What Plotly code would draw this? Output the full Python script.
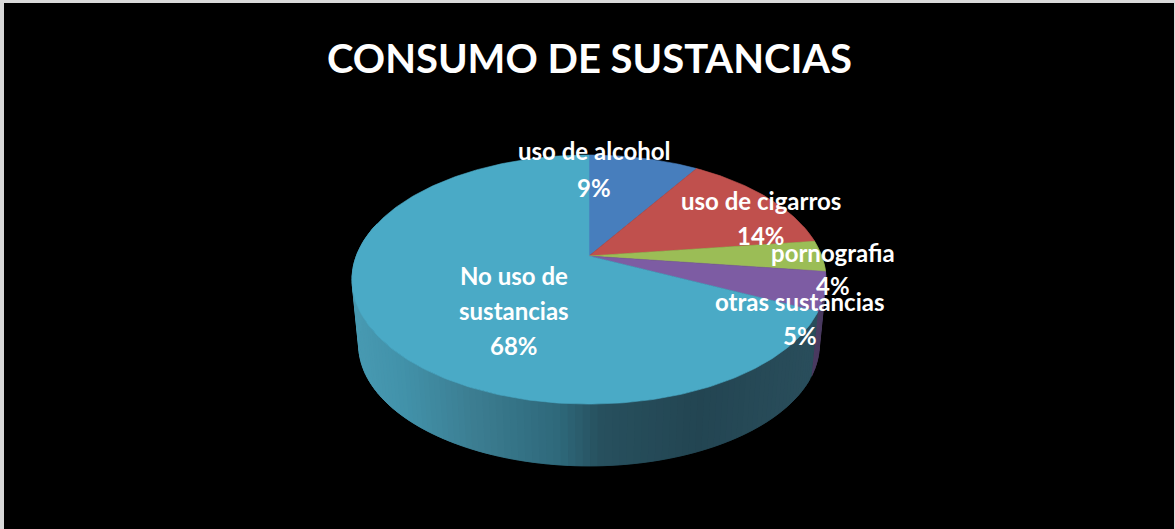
import numpy as np
import plotly.graph_objects as go

# Chart content
title = "CONSUMO DE SUSTANCIAS"
categories = ["uso de alcohol", "uso de cigarros", "pornografia", "otras sustancias", "No uso de sustancias"]
values = [9, 14, 4, 5, 68]

# Styling
top_colors = ["#477ebd", "#c0504d", "#9bbd56", "#7d5ca3", "#4aaac6"]
wall_colors = ["#2e4763", "#6e2f2d", "#5b6f35", "#4a3a60", None]
wall_ramp_x = [352, 400, 470, 560, 600, 700, 825]
wall_ramp_rgb = [(72, 154, 178), (66, 146, 170), (60, 126, 146), (46, 104, 122),
                 (39, 80, 94), (35, 69, 82), (42, 78, 92)]

# Label layout, one entry per category: (centre x, first line y, line gap, wrapped lines)
label_layout = [
    (594, 150, 37, ["uso de alcohol"]),
    (761, 200, 35, ["uso de cigarros"]),
    (833, 252, 33, ["pornografia"]),
    (800, 301, 34, ["otras sustancias"]),
    (514, 275, 35, ["No uso de", "sustancias"]),
]

# Perspective disc: apex, radii and foreshortening of the top face, plus the extruded base
APEX_X, APEX_Y = 589.0, 256.0
RX, RY, PERSP = 232.7, 120.1, 0.189
DROP, BASE_SCALE = 66.0, 0.972


def project(theta, drop=0.0, scale=1.0):
    """Clockwise angle from twelve o'clock to canvas x, y on the tilted disc."""
    d = 1 + PERSP * np.cos(theta)
    return (APEX_X + scale * RX * np.sin(theta) / d,
            APEX_Y + drop - scale * RY * np.cos(theta) / d)


def polygon(x, y, color):
    return go.Scatter(x=x, y=y, mode="lines", fill="toself", fillcolor=color,
                      line=dict(color=color, width=0.6),
                      hoverinfo="skip", showlegend=False)


fig = go.Figure()

shares = np.array(values, dtype=float) / sum(values)
edges = np.concatenate([[0.0], np.cumsum(shares)]) * 2 * np.pi

# Side wall first; each shaded strip overlaps the next one so no seams show between them
for i in range(len(values)):
    start, end = edges[i], edges[i + 1]
    n = max(2, int((end - start) / np.radians(1.5)))
    steps = np.linspace(start, end, n + 1)
    for k in range(n):
        a, b = steps[k], steps[min(k + 2, n)]
        mid = (steps[k] + steps[k + 1]) / 2
        if np.cos(mid) > 0.25:
            continue
        mx, _ = project(mid)
        if wall_colors[i]:
            color = wall_colors[i]
        else:
            rgb = [np.interp(mx, wall_ramp_x, [c[j] for c in wall_ramp_rgb]) for j in range(3)]
            color = "rgb({:.0f},{:.0f},{:.0f})".format(*rgb)
        x0, y0 = project(np.array([a, b]))
        x1, y1 = project(np.array([b, a]), DROP, BASE_SCALE)
        fig.add_trace(polygon(list(x0) + list(x1), list(y0) + list(y1), color))

# Top face wedges
for i in range(len(values)):
    th = np.linspace(edges[i], edges[i + 1], max(3, int(values[i] * 4)))
    x, y = project(th)
    fig.add_trace(polygon([APEX_X] + list(x) + [APEX_X], [APEX_Y] + list(y) + [APEX_Y], top_colors[i]))

# Data labels, one annotation per line so the gap stays wider than the default leading
annotations = []
for (cx, cy, gap, lines), v in zip(label_layout, values):
    for j, text in enumerate(lines + [f"{v}%"]):
        annotations.append(dict(x=cx, y=cy + j * gap, text=text, showarrow=False,
                                xref="x", yref="y", xanchor="center", yanchor="middle",
                                font=dict(family="Lato", size=24, color="#ffffff", weight="bold")))

annotations.append(dict(x=589, y=58, text=title, showarrow=False, xref="x", yref="y",
                        xanchor="center", yanchor="middle",
                        font=dict(family="Lato", size=40, color="#ffffff", weight="bold")))

fig.update_layout(
    width=1175, height=529, autosize=False,
    margin=dict(l=0, r=0, t=0, b=0),
    paper_bgcolor="#d9d9d9", plot_bgcolor="#d9d9d9",
    showlegend=False,
    xaxis=dict(range=[0, 1175], visible=False, fixedrange=True),
    yaxis=dict(range=[529, 0], visible=False, fixedrange=True),
    annotations=annotations,
    shapes=[dict(type="rect", xref="x", yref="y", x0=4, y0=3, x1=1174, y1=529,
                 fillcolor="#000000", line_width=0, layer="below")],
)

fig.write_html("out.html", config={"displayModeBar": False})
